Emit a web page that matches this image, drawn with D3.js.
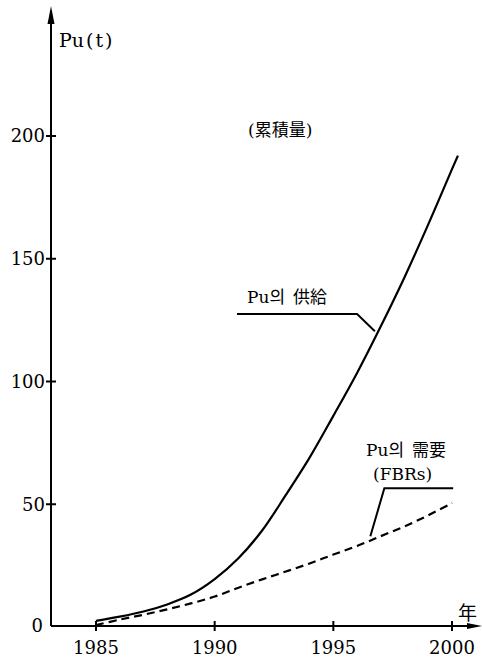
<!DOCTYPE html>
<html><head><meta charset="utf-8">
<script src="https://cdn.jsdelivr.net/npm/d3@7"></script>
<style>
html,body{margin:0;padding:0;background:#fff;}
svg{display:block;}
text{fill:#000;}
.serif{font-family:"DejaVu Serif","Liberation Serif",serif;}
.cjk{font-family:"DejaVu Serif","Liberation Serif","Noto Sans CJK KR","Noto Sans CJK JP",serif;}
</style></head>
<body>
<svg id="c" width="482" height="661"></svg>
<script>
// ---- data ----
const yTicks = [0, 50, 100, 150, 200];
const xTicks = [1985, 1990, 1995, 2000];
const supplyYears  = [1985, 1986, 1987, 1988, 1989, 1990, 1991, 1992, 1993, 1994, 1995, 1996, 1997, 1998, 1999, 2000, 2000.25];
const supplyValues = [2.5, 4.2, 6.3, 9.2, 13.2, 19.5, 28, 39.3, 53.8, 69, 86, 103.5, 122.5, 142.5, 164, 186.5, 192];
const demandYears  = [1985, 1986, 1987, 1988, 1989, 1990, 1991, 1992, 1993, 1994, 1995, 1996, 1997, 1998, 1999, 2000];
const demandValues = [0.8, 3, 5, 7.2, 9.6, 12.4, 16, 19.4, 22.6, 25.9, 29.5, 33, 37, 41, 45.5, 50.5];
// leader lines in data units [year, value]
const supplyLeader = [[1990.94, 127.5], [1996.0, 127.5], [1996.75, 120.5]];
const demandLeader = [[2000.05, 56.5], [1997.15, 56.5], [1996.56, 37.0]];

const svg = d3.select("#c");
const x = d3.scaleLinear().domain([1985, 2000]).range([96, 452]);
const y = d3.scaleLinear().domain([0, 200]).range([627, 136]);
const axisX = 51, axisY = 626;

// axes lines
svg.append("line").attr("x1", axisX).attr("y1", axisY).attr("x2", axisX).attr("y2", 16)
  .attr("stroke", "#000").attr("stroke-width", 2);
svg.append("path").attr("d", `M${axisX},6 L${axisX-3.5},24 L${axisX+3.5},24 Z`).attr("fill", "#000");
svg.append("line").attr("x1", axisX).attr("y1", axisY).attr("x2", 472).attr("y2", axisY)
  .attr("stroke", "#000").attr("stroke-width", 2);
svg.append("path").attr("d", `M482,${axisY} L467,${axisY-3} L467,${axisY+3} Z`).attr("fill", "#000");

// y ticks
const yt = svg.append("g");
yTicks.forEach(v => {
  if (v > 0) yt.append("line").attr("x1", axisX - 5).attr("x2", axisX + 5)
    .attr("y1", y(v)).attr("y2", y(v)).attr("stroke", "#000").attr("stroke-width", 2);
  yt.append("text").attr("class", "serif").attr("x", v === 0 ? 43 : 45).attr("y", v === 0 ? axisY : y(v)).attr("dy", "0.35em")
    .attr("text-anchor", "end").style("font-size", "18px")
    .text(v);
});
// x ticks
const xt = svg.append("g");
xTicks.forEach(v => {
  xt.append("line").attr("x1", x(v)).attr("x2", x(v)).attr("y1", axisY - 5).attr("y2", axisY + 5)
    .attr("stroke", "#000").attr("stroke-width", 2);
  xt.append("text").attr("class", "serif").attr("x", x(v)).attr("y", 654).attr("text-anchor", "middle")
    .style("font-size", "18px").text(v);
});

// curves
const line = d3.line().x(d => x(d[0])).y(d => y(d[1])).curve(d3.curveCatmullRom);
svg.append("path").datum(supplyYears.map((t, i) => [t, supplyValues[i]]))
  .attr("d", line).attr("fill", "none").attr("stroke", "#000").attr("stroke-width", 2.2);
svg.append("path").datum(demandYears.map((t, i) => [t, demandValues[i]]))
  .attr("d", line).attr("fill", "none").attr("stroke", "#000").attr("stroke-width", 2.2)
  .attr("stroke-dasharray", "8,5");

// leaders
const lline = d3.line().x(d => x(d[0])).y(d => y(d[1]));
[supplyLeader, demandLeader].forEach(p => {
  svg.append("path").attr("d", lline(p)).attr("fill", "none").attr("stroke", "#000").attr("stroke-width", 2);
});

// labels
svg.append("text").attr("class", "serif").attr("x", 59).attr("y", 47).style("font-size", "19px")
  .html('Pu<tspan dx="2" letter-spacing="2">(t)</tspan>');
svg.append("text").attr("class", "cjk").attr("x", 248).attr("y", 136).style("font-size", "17px")
  .text("(累積量)");
svg.append("text").attr("class", "cjk").attr("x", 247).attr("y", 303).style("font-size", "17px")
  .html('Pu의<tspan dx="8">供給</tspan>');
svg.append("text").attr("class", "cjk").attr("x", 366).attr("y", 456).style("font-size", "17px")
  .html('Pu의<tspan dx="8">需要</tspan>');
svg.append("text").attr("class", "serif").attr("x", 373).attr("y", 480).style("font-size", "17px")
  .text("(FBRs)");
svg.append("text").attr("class", "cjk").attr("x", 458).attr("y", 620).style("font-size", "19px")
  .text("年");
</script>
</body></html>
